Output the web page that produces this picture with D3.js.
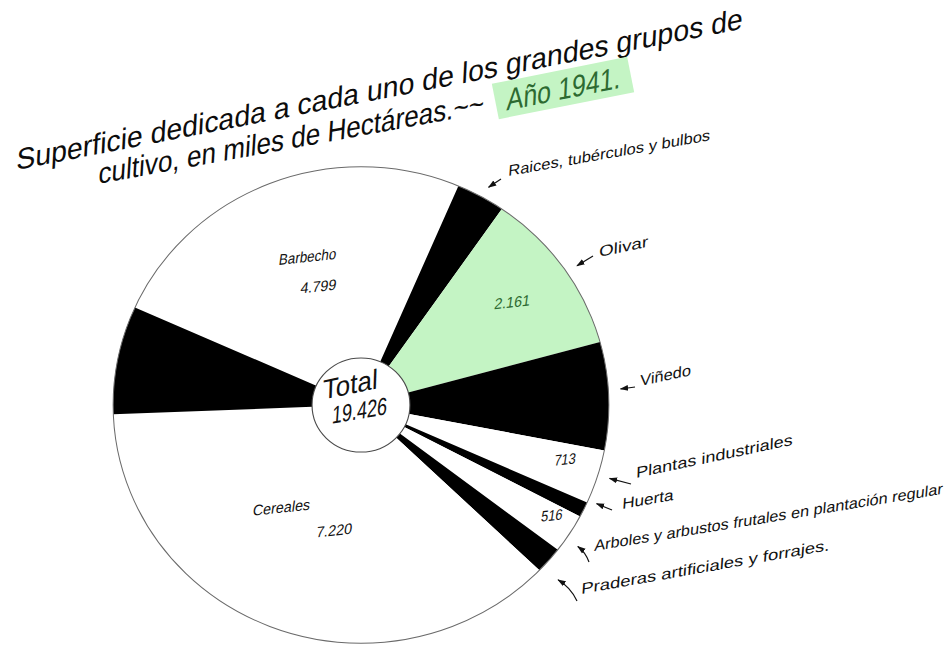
<!DOCTYPE html>
<html>
<head>
<meta charset="utf-8">
<script src="https://cdn.jsdelivr.net/npm/d3@7"></script>
<style>
  html, body { margin: 0; padding: 0; background: #ffffff; }
  text { font-family: "Liberation Sans", "DejaVu Sans", sans-serif; }
</style>
</head>
<body>
<div id="canvas"></div>
<script>
// Groups of crops, clockwise from Barbecho (thousands of hectares, 1941).
const categories = [
    "Barbecho",
    "Raices, tubérculos y bulbos",
    "Olivar",
    "Viñedo",
    "Plantas industriales",
    "Huerta",
    "Arboles y arbustos frutales en plantación regular",
    "Praderas artificiales y forrajes.",
    "Cereales",
    "Leguminosas"
];
const values = [4799, 620, 2161, 1420, 713, 200, 516, 350, 7220, 1427];
// Printed numbers inside the wedges ("" = none).
const valueLabels = ["4.799", "", "2.161", "", "713", "", "516", "", "7.220", ""];
const totalLabel = "19.426";
const titleLines = ["Superficie dedicada a cada uno de los grandes grupos de", "cultivo, en miles de Hectáreas.~~"];
const yearLabel = "Año 1941.";

const w = 947, h = 649;
const cx = 361, cy = 405;
const R = 243, r0 = 48;
const sx = 1.02, sy = 0.98; // the drawn circle is slightly wider than tall
const ink = "#111111", darkGreen = "#2d6a31", paleGreen = "#c4f4c4";

const svg = d3.select("#canvas")
    .append("svg")
    .attr("width", w)
    .attr("height", h);

svg.append("rect").attr("width", w).attr("height", h).attr("fill", "#ffffff");

const fill = d3.scaleOrdinal()
    .domain(categories)
    .range(["#ffffff", "#000000", paleGreen, "#000000", "#ffffff", "#000000", "#ffffff", "#000000", "#ffffff", "#000000"]);

const start = -65.8 * Math.PI / 180;
const pie = d3.pie().sort(null).value(d => d).startAngle(start).endAngle(start + 2 * Math.PI);
const arcs = pie(values);
const arc = d3.arc().innerRadius(r0).outerRadius(R);

const g = svg.append("g").attr("transform", `translate(${cx},${cy}) scale(${sx},${sy})`);

g.selectAll("path.wedge")
    .data(arcs)
    .enter()
    .append("path")
    .attr("class", "wedge")
    .attr("d", arc)
    .attr("fill", (d, i) => fill(categories[i]));

// outer outline and central disc
g.append("circle").attr("r", R).attr("fill", "none").attr("stroke", "#6a6a6a").attr("stroke-width", 1);
g.append("circle").attr("r", r0).attr("fill", "#ffffff").attr("stroke", "#4a4a4a").attr("stroke-width", 1.1);

// polar point in page coordinates
const polar = (a, rad) => [cx + sx * rad * Math.sin(a), cy - sy * rad * Math.cos(a)];
const mid = d => (d.startAngle + d.endAngle) / 2;

// slanted, hand-lettered looking text
function write(x, y, rot, size, str, opt = {}) {
    const t = svg.append("text")
        .attr("transform", `translate(${x},${y}) rotate(${rot}) skewX(-14)`)
        .attr("font-size", size)
        .attr("fill", opt.color || ink)
        .attr("text-anchor", opt.anchor || "start")
        .text(str);
    if (opt.len) t.attr("textLength", opt.len).attr("lengthAdjust", "spacingAndGlyphs");
    return t;
}

// labels written inside the wedges: [index, kind, angle shift (deg), radius]
const inner = [
    [0, "name", 2, 160], [0, "value", 2, 128],
    [2, "value", 0, 181],
    [4, "value", -2, 207],
    [6, "value", -1.5, 218],
    [8, "name", 16, 131], [8, "value", -9, 131]
];
inner.forEach(([i, kind, da, rad]) => {
    const p = polar(mid(arcs[i]) + da * Math.PI / 180, rad);
    const str = kind === "name" ? categories[i] : valueLabels[i];
    write(p[0], p[1] + 5, -6, 15, str, {
        anchor: "middle",
        color: i === 2 ? darkGreen : ink,
        len: str.length * 7.2
    });
});

// centre text
write(350, 394, -12, 27, "Total", {anchor: "middle", len: 56});
write(359, 419, -10, 24, totalLabel, {anchor: "middle", len: 56});

// arrow head
svg.append("defs").append("marker")
    .attr("id", "head")
    .attr("viewBox", "0 0 10 10")
    .attr("refX", 9).attr("refY", 5)
    .attr("markerWidth", 7).attr("markerHeight", 7)
    .attr("orient", "auto")
    .append("path")
    .attr("d", "M0,1.5 L10,5 L0,8.5 Z")
    .attr("fill", ink);

// outside labels: index, angle shift (deg), tip radius, arrow tail, text start, rotation, text length, bend
const notes = [
    [1, 0.5, 12, [501, 179], [508, 176], -10, 205, 0],
    [2, 1.5, 12, [593, 256], [599, 257], -12, 50, 0],
    [3, -1.5, 12, [635, 387], [640, 386], -12, 52, 0],
    [4, -0.5, 12, [631, 484], [636, 478], -12, 160, 0],
    [5, -2.5, 9, [612, 510], [622, 509], -10, 52, 0],
    [6, 1.5, 14, [589, 562], [594, 551], -9.3, 353, 2],
    [7, 2, 20, [577, 601], [581, 594], -10, 252, 3]
];
notes.forEach(([i, da, dr, tail, t, rot, len, bend]) => {
    const tip = polar(mid(arcs[i]) + da * Math.PI / 180, R + dr);
    const mx = (tail[0] + tip[0]) / 2 + bend, my = (tail[1] + tip[1]) / 2 - bend;
    svg.append("path")
        .attr("d", `M${tail[0]},${tail[1]} Q${mx},${my} ${tip[0]},${tip[1]}`)
        .attr("fill", "none")
        .attr("stroke", ink)
        .attr("stroke-width", 1.2)
        .attr("marker-end", "url(#head)");
    write(t[0], t[1], rot, 15, categories[i], {len: len});
});

// title
write(16, 170, -11, 29, titleLines[0], {len: 740, color: "#0c0c0c"});
write(98, 184, -10.4, 29, titleLines[1], {len: 392, color: "#0c0c0c"});

const year = svg.append("g").attr("transform", "translate(563,88) rotate(-11.3)");
year.append("rect").attr("x", -69).attr("y", -18).attr("width", 138).attr("height", 36).attr("fill", paleGreen);
year.append("text").attr("transform", "translate(-60,11) skewX(-14)")
    .attr("font-size", 30).attr("textLength", 116).attr("lengthAdjust", "spacingAndGlyphs")
    .attr("fill", darkGreen).text(yearLabel);
</script>
</body>
</html>
